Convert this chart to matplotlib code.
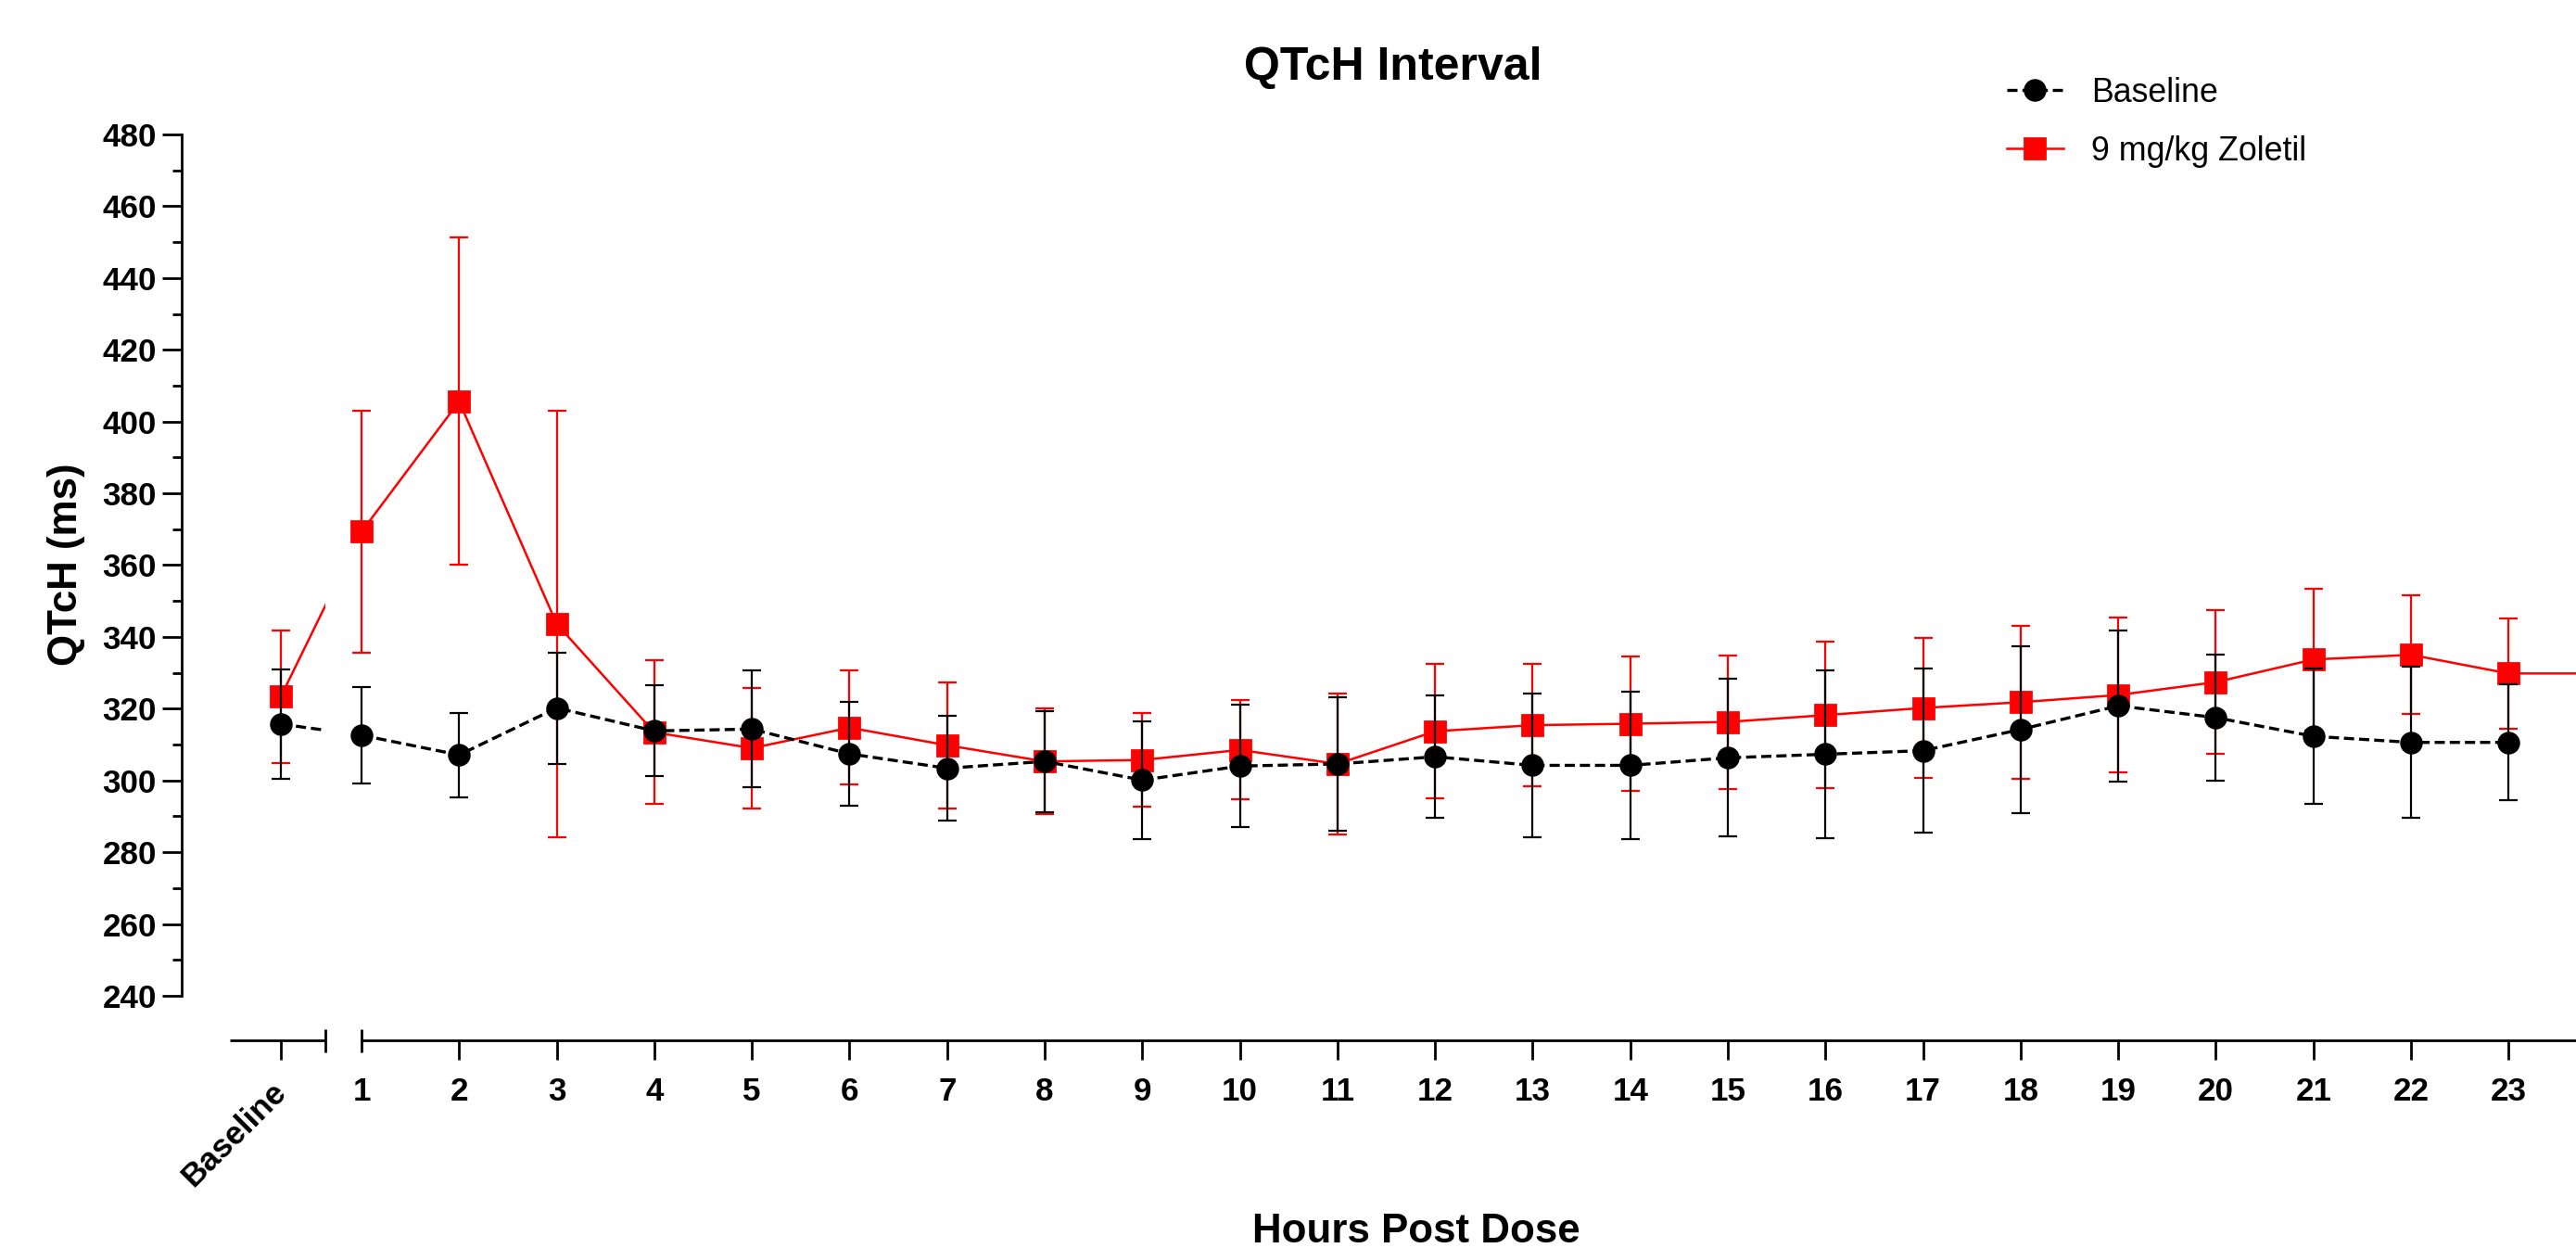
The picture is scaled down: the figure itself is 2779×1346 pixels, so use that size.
import numpy as np
import matplotlib
matplotlib.use("Agg")
import matplotlib.pyplot as plt
from matplotlib import transforms
from matplotlib.lines import Line2D
from matplotlib.patches import Rectangle

plt.rcParams['font.family'] = ['Liberation Sans', 'DejaVu Sans']

# ---------------- data ----------------
time_labels = ["Baseline", "1", "2", "3", "4", "5", "6", "7", "8", "9", "10", "11",
               "12", "13", "14", "15", "16", "17", "18", "19", "20", "21", "22", "23", "24"]

baseline_mean = [315.7, 312.6, 307.1, 320.2, 313.8, 314.3, 307.4, 303.4, 305.3, 300.1, 304.0, 304.6,
                 306.6, 304.2, 304.2, 306.3, 307.3, 308.3, 314.2, 320.8, 317.5, 312.3, 310.6, 310.6, np.nan]
baseline_sd = [15.3, 13.4, 11.8, 15.5, 12.7, 16.3, 14.4, 14.6, 14.1, 16.4, 17.1, 18.6,
               17.1, 20.0, 20.6, 22.0, 23.3, 22.9, 23.3, 21.1, 17.6, 18.9, 21.0, 16.2, np.nan]

zoletil_mean = [323.4, 369.3, 405.6, 343.6, 313.4, 309.0, 314.7, 309.8, 305.3, 305.7, 308.5, 304.6,
                313.7, 315.4, 315.8, 316.3, 318.2, 320.2, 321.8, 323.8, 327.4, 333.7, 335.0, 329.8, 329.8]
zoletil_sd = [18.5, 33.6, 45.6, 59.5, 20.0, 16.7, 15.9, 17.6, 14.8, 13.0, 13.8, 19.6,
              18.8, 17.0, 18.8, 18.6, 20.4, 19.4, 21.3, 21.6, 20.1, 19.7, 16.6, 15.4, 15.4]

series_names = ["Baseline", "9 mg/kg Zoletil"]
y_ticks = [240, 260, 280, 300, 320, 340, 360, 380, 400, 420, 440, 460, 480]

# ---------------- layout / style ----------------
RED = "#FF0000"
BLACK = "#000000"
XMIN, XMAX = -0.349, 23.69
BASE_POS = 0.174
BREAK_L, BREAK_R = 0.630, 1.0
Y_OUT = 17.3   # pt, x-axis offset
X_OUT = 18.7   # pt, y-axis offset
AX_LW = 1.0
EB_LW = 0.8
MS = 7.8

fig = plt.figure(figsize=(2779 / 200, 1346 / 200), dpi=200)
ax = fig.add_axes([0.08924, 0.2021, 1 - 0.08924, 0.8923 - 0.2021])

n = len(time_labels)
xpos = np.concatenate([[BASE_POS], np.arange(1, n)]).astype(float)
bm = np.array(baseline_mean)
bs = np.array(baseline_sd)
zm = np.array(zoletil_mean)
zs = np.array(zoletil_sd)

# clip region for baseline -> hour 1 connectors (visible only within baseline segment)
clip_rect = Rectangle((XMIN, 0), BREAK_L - XMIN, 1,
                      transform=transforms.blended_transform_factory(ax.transData, ax.transAxes))

# Zoletil series (red)
ax.errorbar(xpos, zm, yerr=zs, fmt='none', ecolor=RED, elinewidth=EB_LW,
            capsize=3.7, capthick=EB_LW, zorder=2)
ax.plot(xpos[1:], zm[1:], color=RED, lw=0.9, zorder=2)
c1, = ax.plot(xpos[:2], zm[:2], color=RED, lw=0.9, zorder=2)
c1.set_clip_path(clip_rect)
ax.plot(xpos, zm, ls='none', marker='s', ms=MS, color=RED, mec=RED, zorder=3)

# Baseline series (black dashed)
DASH = (0, (3.3, 1.6))
ax.errorbar(xpos, bm, yerr=bs, fmt='none', ecolor=BLACK, elinewidth=EB_LW,
            capsize=3.7, capthick=EB_LW, zorder=4)
ax.plot(xpos[1:], bm[1:], color=BLACK, lw=1.2, ls=DASH, zorder=4)
c2, = ax.plot(xpos[:2], bm[:2], color=BLACK, lw=1.2, ls=DASH, zorder=4)
c2.set_clip_path(clip_rect)
ax.plot(xpos, bm, ls='none', marker='o', ms=MS, color=BLACK, zorder=5)

# axes limits and spines
ax.set_xlim(XMIN, XMAX)
ax.set_ylim(240, 480)
for s in ['top', 'right']:
    ax.spines[s].set_visible(False)
ax.spines['left'].set_position(('outward', X_OUT))
ax.spines['left'].set_bounds(240, 480)
ax.spines['left'].set_linewidth(AX_LW)
ax.spines['bottom'].set_position(('outward', Y_OUT))
ax.spines['bottom'].set_bounds(BREAK_R, XMAX)
ax.spines['bottom'].set_linewidth(AX_LW)

# y ticks
ax.set_yticks(y_ticks)
ax.set_yticks(np.arange(250, 480, 20), minor=True)
ax.tick_params(axis='y', which='major', length=7.6, width=AX_LW, pad=2.2, labelsize=12.6)
ax.tick_params(axis='y', which='minor', length=3.6, width=AX_LW)
for lab in ax.get_yticklabels():
    lab.set_fontweight('bold')

# x ticks (Baseline + 1..23 visible)
nvis = 24
ax.set_xticks(xpos[:nvis])
ax.set_xticklabels(time_labels[:nvis])
ax.tick_params(axis='x', which='major', length=7.6, width=AX_LW, pad=6.5, labelsize=12.6)
for lab in ax.get_xticklabels():
    lab.set_fontweight('bold')
bl = ax.get_xticklabels()[0]
bl.set_rotation(45)
bl.set_ha('right')
bl.set_va('top')
bl.set_transform(bl.get_transform() + transforms.ScaledTranslation(4.5 / 72, 0, fig.dpi_scale_trans))
ax.xaxis.get_major_ticks()[1].tick1line.set_visible(False)

# baseline segment of the broken x axis and break marks
seg_trans = transforms.blended_transform_factory(ax.transData, ax.transAxes) + \
    transforms.ScaledTranslation(0, -Y_OUT / 72, fig.dpi_scale_trans)
ax.add_line(Line2D([XMIN, BREAK_L], [0, 0], transform=seg_trans, lw=AX_LW,
                   color=BLACK, clip_on=False, solid_capstyle='butt'))
ax.plot([BREAK_L, BREAK_R], [0, 0], ls='none', marker='|', ms=9, mew=AX_LW,
        color=BLACK, transform=seg_trans, clip_on=False)

# texts
fig.text(0.5408, 0.946, "QTcH Interval", ha='center', va='center',
         fontsize=18, fontweight='bold')
fig.text(0.0259, 0.548, "QTcH (ms)", ha='center', va='center', rotation=90,
         fontsize=15.8, fontweight='bold')
fig.text(0.5498, 0.013, "Hours Post Dose", ha='center', va='center',
         fontsize=15.8, fontweight='bold')

# legend
h1 = Line2D([], [], color=BLACK, lw=1.2, ls=DASH, marker='o', ms=MS)
h2 = Line2D([], [], color=RED, lw=0.9, marker='s', ms=MS)
fig.legend([h1, h2], series_names, loc='upper left', bbox_to_anchor=(0.779, 0.9385),
           frameon=False, fontsize=12.9, borderpad=0, borderaxespad=0,
           handlelength=1.7, handletextpad=0.84, labelspacing=0.78)

fig.savefig("out.png", dpi=200)
